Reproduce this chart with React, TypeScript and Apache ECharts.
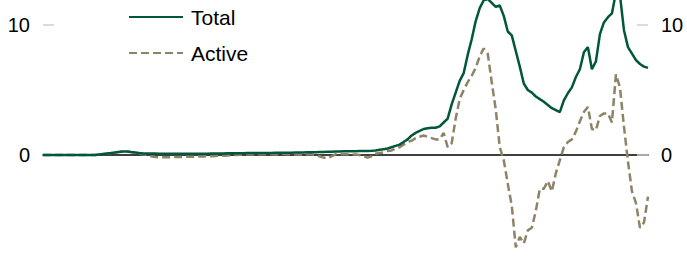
import React, { useEffect, useRef } from "react";
import * as echarts from "echarts";

const categories: string[] = Array.from({ length: 152 }, (_, i) => String(i));

const totalValues: number[] = [
  0, 0, 0, 0, 0, 0, 0, 0, 0, 0, 0, 0, 0, 0,
  0.04, 0.08, 0.12, 0.15, 0.2, 0.23, 0.27, 0.27, 0.23, 0.2, 0.15,
  0.12, 0.12, 0.11, 0.11, 0.1, 0.1, 0.1, 0.1, 0.1, 0.1, 0.1, 0.1, 0.1, 0.1, 0.1, 0.1, 0.1, 0.11, 0.11, 0.12, 0.12,
  0.13, 0.13, 0.14, 0.14, 0.14, 0.15, 0.15, 0.15, 0.15, 0.15, 0.16, 0.16, 0.17, 0.17, 0.18, 0.18, 0.18, 0.2, 0.2,
  0.2, 0.21, 0.22, 0.22, 0.23, 0.24, 0.25, 0.25, 0.26, 0.27, 0.28, 0.28, 0.28, 0.29, 0.3, 0.3, 0.31, 0.32, 0.35, 0.4,
  0.45, 0.5, 0.6, 0.7, 0.8, 1.0, 1.2, 1.5, 1.7, 1.85, 2.0, 2.05, 2.1, 2.1, 2.2, 2.5, 2.8, 3.9, 4.8, 5.7,
  6.3, 7.7, 8.9, 10.3, 11.3, 11.9, 12.0, 11.7, 11.4, 11.5, 10.7, 9.5, 9.2, 8.0, 6.8, 5.5, 5.0, 4.8, 4.5, 4.3,
  4.1, 3.85, 3.6, 3.45, 3.3, 4.2, 4.75, 5.2, 6.0, 6.6, 7.9, 8.3, 6.6, 7.2, 9.3, 10.2, 10.6, 10.9, 12.5, 12.3,
  9.6, 8.3, 7.8, 7.3, 7.0, 6.8, 6.7,
];

const activeValues: number[] = [
  0, 0, 0, 0, 0, 0, 0, 0, 0, 0, 0, 0, 0, 0,
  0.03, 0.07, 0.1, 0.15, 0.2, 0.25, 0.27, 0.27, 0.22, 0.17, 0.12,
  0.05, 0, -0.1,
  -0.15, -0.17, -0.18, -0.18, -0.17, -0.16, -0.15, -0.15, -0.14, -0.14, -0.13, -0.12, -0.12, -0.1, -0.1, -0.08, -0.06, -0.05,
  -0.03, -0.02, 0, 0.02, 0.03, 0.03, 0.04, 0.05, 0.05, 0.05, 0.05, 0.06, 0.06, 0.07, 0.07, 0.06, 0.05, 0.04, 0.03,
  0, 0.05, 0.05, 0, -0.1, -0.2, -0.25, -0.1, 0.05, 0.05, 0.06, 0.06, 0.05, 0.03, 0, -0.1, -0.2, -0.1, 0.1, 0.15,
  0.2, 0.3, 0.35, 0.5, 0.6, 0.8, 1.0, 1.1, 1.3, 1.4, 1.5, 1.4, 1.3, 1.2, 1.2, 1.7, 0.6, 0.9, 2.8, 4.3,
  5.0, 5.6, 6.1, 6.7, 7.6, 8.2, 7.8, 5.6, 3.5, 0.6, -0.4, -2.2, -3.9, -7.1, -6.3, -6.8, -5.8, -5.6, -4.3, -2.6,
  -2.6, -2.0, -2.8, -1.4, -0.4, 0.6, 1.0, 1.2, 1.8, 2.6, 3.3, 3.7, 2.0, 1.9, 3.0, 3.2, 3.2, 2.5, 6.2, 5.2,
  2.2, -0.5, -2.8, -3.7, -5.6, -5.2, -3.2,
];

const yTickLabels: number[] = [0, 10];

const FONT = "'Liberation Sans', Arial, sans-serif";
const GREEN = "#00573a";
const TAN = "#8e8366";
const TICK = "#d3cfc2";
// the plot spans -10..20 at 13px per unit; the visible window shows about -8..12
const OFFSET = 105;

export default function App() {
  const ref = useRef<HTMLDivElement>(null);

  useEffect(() => {
    if (!ref.current) return;
    const chart = echarts.init(ref.current, undefined, { renderer: "svg" });
    const yAxisBase = {
      type: "value" as const,
      min: -10,
      max: 20,
      interval: 10,
      splitLine: { show: false },
      axisLine: { show: false },
      axisTick: { show: true, inside: true, length: 11, lineStyle: { color: TICK, width: 1.5 } },
      axisLabel: {
        color: "#000",
        fontSize: 20,
        fontFamily: FONT,
        margin: 13,
        formatter: (v: number) => (yTickLabels.includes(v) ? String(v) : ""),
      },
    };
    chart.setOption({
      animation: false,
      grid: { left: 43, right: 39, top: 0, height: 390 },
      legend: {
        orient: "vertical",
        left: 123,
        top: OFFSET + 1,
        itemWidth: 54,
        itemHeight: 16,
        itemGap: 14,
        itemStyle: { opacity: 0 },
        textStyle: {
          fontSize: 21,
          fontFamily: FONT,
          color: "#000",
          lineHeight: 22,
          padding: [0, 0, 0, 3],
        },
        data: ["Total", "Active"],
      },
      xAxis: {
        type: "category",
        data: categories,
        boundaryGap: false,
        axisLine: { onZero: true, lineStyle: { color: "#000", width: 1.5 } },
        axisTick: { show: false },
        axisLabel: { show: false },
      },
      yAxis: [
        { ...yAxisBase, position: "left" },
        { ...yAxisBase, position: "right" },
      ],
      series: [
        {
          name: "Total",
          type: "line",
          data: totalValues,
          symbol: "none",
          yAxisIndex: 0,
          z: 3,
          lineStyle: { color: GREEN, width: 2.5 },
          itemStyle: { color: GREEN },
        },
        {
          name: "Active",
          type: "line",
          data: activeValues,
          symbol: "none",
          yAxisIndex: 0,
          z: 2,
          lineStyle: { color: TAN, width: 2.5, type: [8, 4] },
          itemStyle: { color: TAN },
        },
      ],
    });
    return () => chart.dispose();
  }, []);

  return (
    <div
      style={{ position: "fixed", left: 0, top: 0, width: 687, height: 259, overflow: "hidden", background: "#fff" }}
    >
      <div
        ref={ref}
        style={{ position: "absolute", left: 0, top: -OFFSET, width: 687, height: 390 }}
      />
    </div>
  );
}
